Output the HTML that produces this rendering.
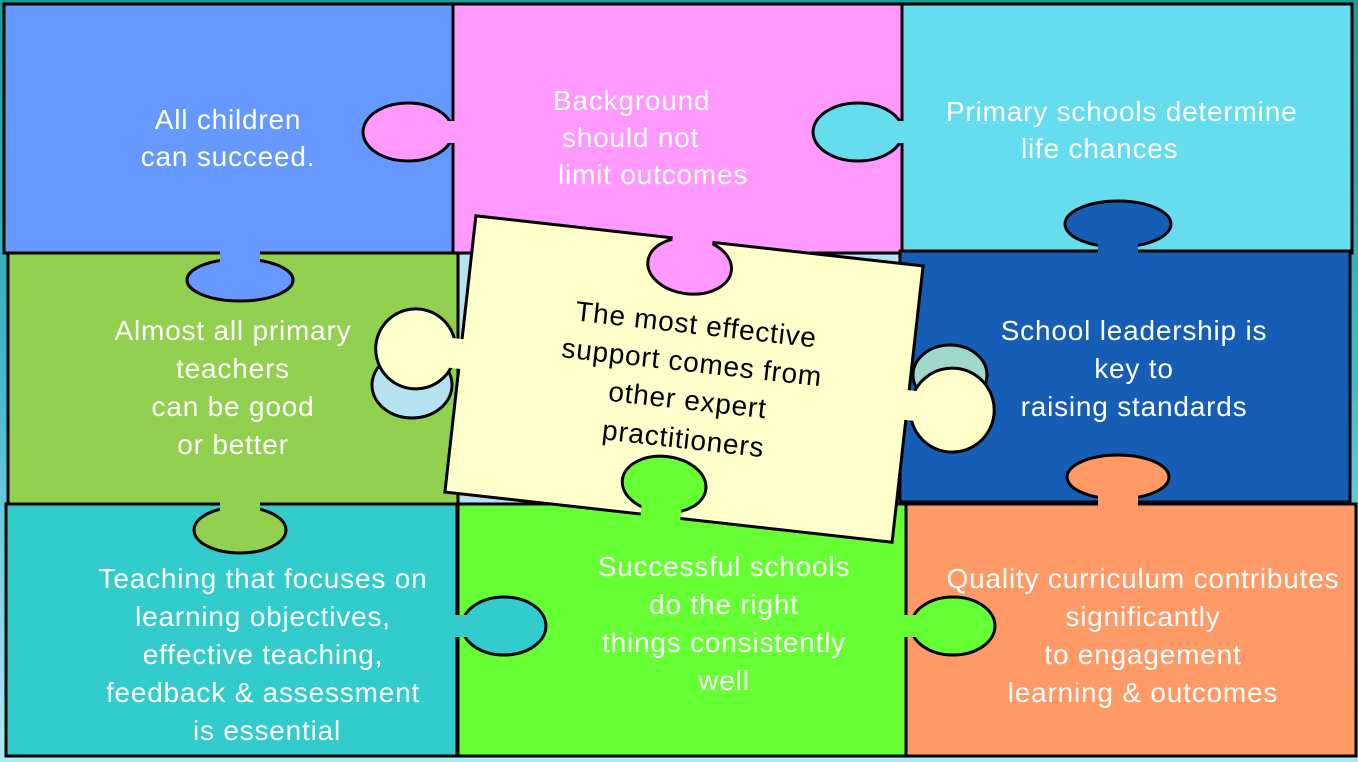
<!DOCTYPE html>
<html><head><meta charset="utf-8"><style>
html,body{margin:0;padding:0;width:1358px;height:762px;overflow:hidden}
svg{display:block}
text{font-family:"Liberation Sans",sans-serif;font-size:28px;letter-spacing:0.8px;fill:#fff}
</style></head><body>
<svg width="1358" height="762" viewBox="0 0 1358 762" xmlns="http://www.w3.org/2000/svg">
<defs>
<linearGradient id="bg" x1="0" y1="0" x2="0" y2="1">
<stop offset="0" stop-color="#1f9a96"/><stop offset="0.5" stop-color="#45b8cc"/><stop offset="1" stop-color="#a8ecf6"/>
</linearGradient>
</defs>
<rect width="1358" height="762" fill="url(#bg)"/>
<g stroke="#000" stroke-width="3">
<rect x="458" y="253" width="444" height="251" fill="#b4e2f0" stroke="none"/>
<rect x="4" y="4" width="449" height="249" fill="#6699ff"/>
<rect x="453" y="4" width="449" height="249" fill="#ff99ff"/>
<rect x="902" y="4" width="450" height="249" fill="#66ddee"/>
<rect x="8" y="253" width="450" height="251" fill="#92d050"/>
<rect x="900" y="251" width="450" height="251" fill="#165db5"/>
<rect x="6" y="504" width="451" height="252" fill="#33cccc"/>
<rect x="458" y="504" width="448" height="252" fill="#66ff33"/>
<rect x="906" y="504" width="450" height="252" fill="#ff9966"/>

<ellipse cx="408" cy="132" rx="45" ry="29" fill="#ff99ff"/>
<rect x="436" y="121" width="20" height="22" fill="#ff99ff" stroke="none"/>
<ellipse cx="858" cy="132" rx="45" ry="29" fill="#66ddee"/>
<rect x="886" y="121" width="20" height="22" fill="#66ddee" stroke="none"/>

<ellipse cx="1118" cy="224" rx="53" ry="23" fill="#165db5"/>
<rect x="1098" y="240" width="40" height="16" fill="#165db5" stroke="none"/>
<ellipse cx="240" cy="280" rx="53" ry="21" fill="#6699ff"/>
<rect x="220" y="250" width="40" height="16" fill="#6699ff" stroke="none"/>

<ellipse cx="1118" cy="477" rx="51" ry="22" fill="#ff9966"/>
<rect x="1098" y="493" width="40" height="16" fill="#ff9966" stroke="none"/>
<ellipse cx="240" cy="530" rx="46" ry="23" fill="#92d050"/>
<rect x="220" y="500" width="40" height="16" fill="#92d050" stroke="none"/>

<ellipse cx="504" cy="626" rx="42" ry="29" fill="#33cccc"/>
<rect x="455" y="615" width="20" height="22" fill="#33cccc" stroke="none"/>
<ellipse cx="953" cy="626" rx="42" ry="29" fill="#66ff33"/>
<rect x="904" y="615" width="20" height="22" fill="#66ff33" stroke="none"/>

<ellipse cx="412" cy="385" rx="40" ry="33" fill="#b4e2f0"/>
<ellipse cx="950" cy="375" rx="37" ry="30" fill="#a0d8cc"/>

<g transform="rotate(6.4 684 379)">
<rect x="459" y="240" width="450" height="278" fill="#ffffcc"/>
<circle cx="414" cy="379" r="40" fill="#ffffcc"/>
<rect x="444" y="364" width="20" height="30" fill="#ffffcc" stroke="none"/>
<circle cx="954" cy="380" r="42" fill="#ffffcc"/>
<rect x="905" y="365" width="20" height="30" fill="#ffffcc" stroke="none"/>
<ellipse cx="677" cy="266" rx="42" ry="28" fill="#ff99ff"/>
<rect x="657" y="236" width="40" height="18" fill="#ff99ff" stroke="none"/>
<ellipse cx="676" cy="486" rx="42" ry="28" fill="#66ff33"/>
<rect x="656" y="504" width="40" height="18" fill="#66ff33" stroke="none"/>
<text x="690" y="333" text-anchor="middle" stroke="none" style="fill:#000">The most effective</text>
<text x="690" y="371" text-anchor="middle" stroke="none" style="fill:#000">support comes from</text>
<text x="690" y="409" text-anchor="middle" stroke="none" style="fill:#000">other expert</text>
<text x="690" y="448" text-anchor="middle" stroke="none" style="fill:#000">practitioners</text>
</g>
</g>

<g>
<text x="228" y="129" text-anchor="middle">All children</text>
<text x="228" y="166" text-anchor="middle">can succeed.</text>

<text x="553" y="110">Background</text>
<text x="562" y="147">should not</text>
<text x="558" y="184">limit outcomes</text>

<text x="946" y="121">Primary schools determine</text>
<text x="1021" y="158">life chances</text>

<text x="233" y="340" text-anchor="middle">Almost all primary</text>
<text x="233" y="378" text-anchor="middle">teachers</text>
<text x="233" y="416" text-anchor="middle">can be good</text>
<text x="233" y="454" text-anchor="middle">or better</text>

<text x="1134" y="340" text-anchor="middle">School leadership is</text>
<text x="1134" y="378" text-anchor="middle">key to</text>
<text x="1134" y="416" text-anchor="middle">raising standards</text>

<text x="263" y="588" text-anchor="middle">Teaching that focuses on</text>
<text x="263" y="626" text-anchor="middle">learning objectives,</text>
<text x="263" y="664" text-anchor="middle">effective teaching,</text>
<text x="263" y="702" text-anchor="middle">feedback &amp; assessment</text>
<text x="267" y="740" text-anchor="middle">is essential</text>

<text x="724" y="576" text-anchor="middle">Successful schools</text>
<text x="724" y="614" text-anchor="middle">do the right</text>
<text x="724" y="652" text-anchor="middle">things consistently</text>
<text x="724" y="690" text-anchor="middle">well</text>

<text x="1143" y="588" text-anchor="middle">Quality curriculum contributes</text>
<text x="1143" y="626" text-anchor="middle">significantly</text>
<text x="1143" y="664" text-anchor="middle">to engagement</text>
<text x="1143" y="702" text-anchor="middle">learning &amp; outcomes</text>
</g>
</svg>
</body></html>
